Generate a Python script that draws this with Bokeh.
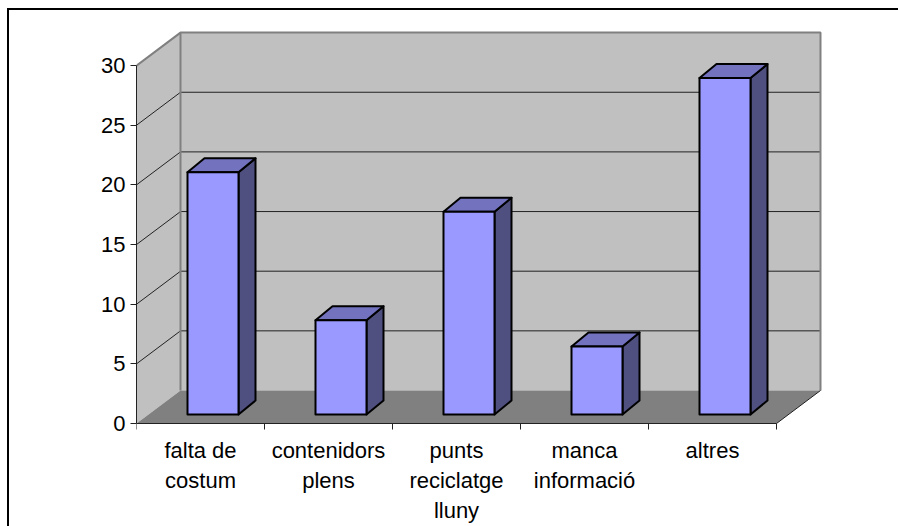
from bokeh.plotting import figure
from bokeh.embed import file_html
from bokeh.resources import INLINE
from bokeh.core.properties import value
from bokeh.models import Range1d, FixedTicker

categories = ["falta de\ncostum", "contenidors\nplens", "punts\nreciclatge\nlluny", "manca\ninformació", "altres"]
values = [20.3, 7.9, 17.0, 5.7, 28.2]
y_ticks = [0, 5, 10, 15, 20, 25, 30]

FONT = "Liberation Sans"
PX_X = 128.0       # pixels per category
PX_Y = 11.93       # pixels per value unit
DEPTH_X = 44 / PX_X
DEPTH_Y = 33 / PX_Y
BAR_W = 51 / PX_X
BAR_SHIFT_X = 12.5 / PX_X
BAR_SHIFT_Y = 9 / PX_Y
BAR_DX = 17 / PX_X
BAR_DY = 14 / PX_Y
YMAX = y_ticks[-1]
N = len(categories)

W, H = 891, 518
LEFT = 127
ABOVE_ZERO = 413
p = figure(width=W, height=H, output_backend="svg", toolbar_location=None,
           x_range=Range1d(0, (W - LEFT) / PX_X),
           y_range=Range1d(-(H - ABOVE_ZERO) / PX_Y, ABOVE_ZERO / PX_Y),
           min_border_left=LEFT, min_border_bottom=0, min_border_top=0, min_border_right=0,
           x_axis_type="linear", y_axis_type="linear", tools="")
p.outline_line_color = None
p.grid.visible = False
p.background_fill_color = "white"
p.styles = {"border-top": "2px solid #000", "border-left": "2px solid #000", "box-sizing": "border-box",
            "margin-left": "7px", "margin-top": "8px"}

# walls and floor
p.patch([0, DEPTH_X, DEPTH_X, 0], [0, DEPTH_Y, YMAX + DEPTH_Y, YMAX], fill_color="#C0C0C0", line_color=None)
p.patch([DEPTH_X, N + DEPTH_X, N + DEPTH_X, DEPTH_X], [DEPTH_Y, DEPTH_Y, YMAX + DEPTH_Y, YMAX + DEPTH_Y],
        fill_color="#C0C0C0", line_color=None)
p.patch([0, N, N + DEPTH_X, DEPTH_X], [0, 0, DEPTH_Y, DEPTH_Y], fill_color="#808080", line_color=None)

# grid lines
grid_x = [[0, DEPTH_X, N + DEPTH_X] for t in y_ticks[1:-1]]
grid_y = [[t, t + DEPTH_Y, t + DEPTH_Y] for t in y_ticks[1:-1]]
p.multi_line(grid_x, grid_y, line_color="#222222", line_width=1)

# wall edges
p.line([0, DEPTH_X, N + DEPTH_X, N + DEPTH_X], [YMAX, YMAX + DEPTH_Y, YMAX + DEPTH_Y, DEPTH_Y],
       line_color="#808080", line_width=2)
p.line([DEPTH_X, DEPTH_X], [DEPTH_Y, YMAX + DEPTH_Y], line_color="#808080", line_width=2)
p.line([N, N + DEPTH_X], [0, DEPTH_Y], line_color="#222222", line_width=1)

# bars
xs_front, ys_front, xs_top, ys_top, xs_side, ys_side = [], [], [], [], [], []
for i, v in enumerate(values):
    x0 = i + 0.5 - BAR_W / 2 + BAR_SHIFT_X
    x1 = x0 + BAR_W
    y0 = BAR_SHIFT_Y
    y1 = y0 + v
    xs_front.append([x0, x1, x1, x0]); ys_front.append([y0, y0, y1, y1])
    xs_top.append([x0, x1, x1 + BAR_DX, x0 + BAR_DX]); ys_top.append([y1, y1, y1 + BAR_DY, y1 + BAR_DY])
    xs_side.append([x1, x1 + BAR_DX, x1 + BAR_DX, x1]); ys_side.append([y0, y0 + BAR_DY, y1 + BAR_DY, y1])
p.patches(xs_side, ys_side, fill_color="#4F4F80", line_color="black", line_width=2, line_join="round")
p.patches(xs_top, ys_top, fill_color="#7272BF", line_color="black", line_width=2, line_join="round")
p.patches(xs_front, ys_front, fill_color="#9999FF", line_color="black", line_width=2, line_join="round")

# axes
ya = p.yaxis[0]
ya.ticker = FixedTicker(ticks=y_ticks)
ya.bounds = (0, YMAX)
ya.axis_line_color = "#222222"
ya.major_tick_line_color = "#222222"
ya.major_tick_out = 6
ya.major_tick_in = 0
ya.minor_tick_out = 0
ya.minor_tick_in = 0
ya.major_label_standoff = 5
ya.major_label_text_font = FONT
ya.major_label_text_font_size = "22px"
ya.major_label_text_color = "black"

xa = p.xaxis[0]
xa.fixed_location = 0
xa.ticker = FixedTicker(ticks=[], minor_ticks=list(range(N + 1)))
xa.bounds = (0, N)
xa.axis_line_color = "#222222"
xa.minor_tick_line_color = "#222222"
xa.minor_tick_out = 6
xa.minor_tick_in = 0
xa.major_tick_out = 0
xa.major_tick_in = 0

p.text([i + 0.5 for i in range(N)], [0] * N, text=categories, y_offset=14, text_align="center",
       text_baseline="top", text_font=value(FONT), text_font_size="22px",
       text_color="black", text_line_height=1.2)

open("out.html", "w").write(file_html(p, INLINE))
